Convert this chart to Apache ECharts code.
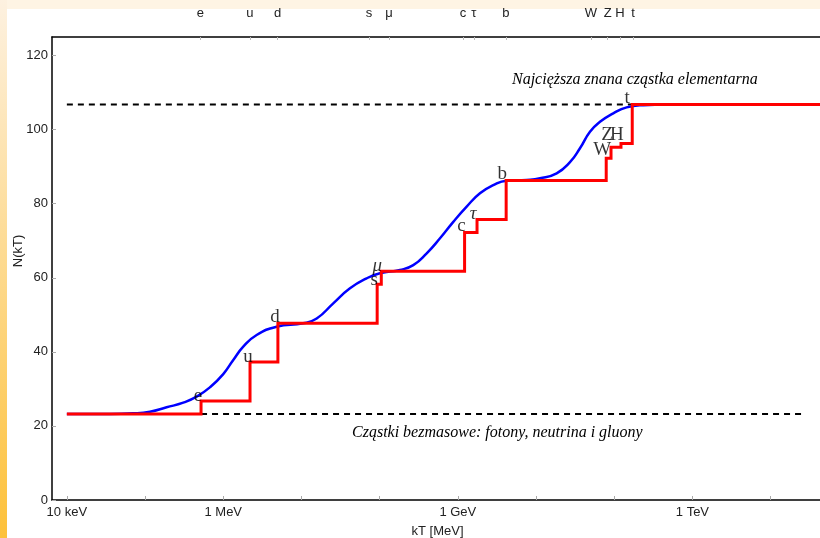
<!DOCTYPE html>
<html><head><meta charset="utf-8">
<script src="https://cdn.jsdelivr.net/npm/echarts@6/dist/echarts.min.js"></script>
<style>html,body{margin:0;padding:0;background:#fff}#c{width:820px;height:538px}</style>
</head><body><div id="c"></div>
<script>
// ---- data ----
const particles   = ['e', 'u', 'd', 's', 'μ', 'c', 'τ', 'b', 'W', 'Z', 'H', 't'];
const massesMeV   = [0.52, 2.2, 5.0, 93, 105, 1220, 1760, 4150, 79000, 91000, 122000, 170000];
const levelsAfter = [26.75, 37.25, 47.75, 58.25, 61.75, 72.25, 75.75, 86.25, 92.25, 95.25, 96.25, 106.75];
const baseLevel = 23.25;
const startMeV = 0.01;
const endLog10 = 7.67;

// blue smooth curve: log10(kT/MeV) and N(kT)
const blueLog10 = [-2.0, -1.449, -1.155, -0.937, -0.724, -0.511, -0.340, -0.170, 0.0, 0.128, 0.256, 0.427, 0.683, 1.023, 1.195, 1.407, 1.621, 1.834, 2.004, 2.260, 2.430, 2.602, 2.772, 2.942, 3.113, 3.283, 3.454, 3.625, 3.881, 4.051, 4.264, 4.434, 4.562, 4.690, 4.818, 4.988, 5.159, 5.372, 5.671, 7.67];
const blueN     = [23.25, 23.25, 23.4, 23.84, 25.03, 26.27, 27.89, 30.43, 34.0, 37.8, 41.39, 44.55, 46.79, 47.71, 49.0, 53.1, 57.15, 59.85, 61.2, 62.1, 63.4, 66.6, 70.65, 75.1, 79.2, 82.8, 85.0, 86.2, 86.4, 86.85, 88.2, 91.2, 94.95, 99.4, 102.1, 104.4, 106.0, 106.6, 106.75, 106.75];

// dashed reference lines
const dashLevels  = [23.25, 106.75];
const dashFromMeV = [0.52, 0.01];
const dashToMeV   = [2.75e7, 170000];

// tick labels
const bottomTickLog10   = [-2, 0, 3, 6];
const bottomTickLabels  = ['10 keV', '1 MeV', '1 GeV', '1 TeV'];
const topLabelLog10     = [-0.294, 0.342, 0.696, 1.864, 2.119, 3.066, 3.206, 3.613, 4.703, 4.917, 5.074, 5.240];
const yTicks = [0, 20, 40, 60, 80, 100, 120];

// ---- build ----
const L = Math.log10;
const redData = [[L(startMeV), baseLevel]];
let prev = baseLevel;
massesMeV.forEach((m, i) => { redData.push([L(m), prev]); redData.push([L(m), levelsAfter[i]]); prev = levelsAfter[i]; });
redData.push([endLog10, prev]);
const blueData = blueLog10.map((x, i) => [x, blueN[i]]);

const labelOffsets = [[-3,-5],[-2,-5],[-3,-6],[-3,-4],[-4,-5],[-3,-6],[-4,-5],[-4,-7],[-4,-8],[-4,-12],[-4,-8],[-5,-7]];
const labelData = particles.map((p, i) => ({
  value: [L(massesMeV[i]), levelsAfter[i]],
  label: { offset: labelOffsets[i], fontStyle: (p === 'μ' || p === 'τ') ? 'italic' : 'normal' }
}));

const dashSeries = dashLevels.map((lv, i) => ({
  type: 'line', data: [[L(dashFromMeV[i]), lv], [L(dashToMeV[i]), lv]],
  symbol: 'none', silent: true, z: 1,
  lineStyle: { color: '#000', width: 2, type: [6, 5] }
}));

const XMIN = -2.19, XMAX = endLog10;
const sans = 'Liberation Sans, Arial, sans-serif';
const chart = echarts.init(document.getElementById('c'), null, { renderer: 'canvas' });
chart.setOption({
  backgroundColor: '#fff',
  animation: false,
  grid: { left: 52, top: 37, width: 771, height: 463, containLabel: false, outerBoundsMode: 'none' },
  xAxis: [{
    type: 'value', min: XMIN, max: XMAX, position: 'bottom',
    name: 'kT [MeV]', nameLocation: 'middle', nameGap: 25,
    nameTextStyle: { fontFamily: sans, fontSize: 13, color: '#222' },
    axisLine: { show: true, onZero: false, lineStyle: { color: '#000', width: 1.5 } },
    axisTick: { show: true, inside: true, length: 4, lineStyle: { color: '#aaa' }, customValues: [-2,-1,0,1,2,3,4,5,6,7] },
    axisLabel: { customValues: bottomTickLog10, margin: 6, fontFamily: sans, fontSize: 13, color: '#222',
      formatter: v => { const k = bottomTickLog10.findIndex(t => Math.abs(t - v) < 1e-6); return k >= 0 ? bottomTickLabels[k] : ''; } },
    splitLine: { show: false }
  }, {
    type: 'value', min: XMIN, max: XMAX, position: 'top',
    axisLine: { show: true, onZero: false, lineStyle: { color: '#000', width: 1.5 } },
    axisTick: { show: true, inside: true, length: 3, lineStyle: { color: '#bbb' }, customValues: topLabelLog10 },
    axisLabel: { customValues: topLabelLog10, margin: 17, fontFamily: sans, fontSize: 13, color: '#222',
      formatter: v => { const k = topLabelLog10.findIndex(t => Math.abs(t - v) < 1e-6); return k >= 0 ? particles[k] : ''; } },
    splitLine: { show: false }
  }],
  yAxis: {
    type: 'value', min: 0, max: 125,
    axisLine: { show: true, onZero: false, lineStyle: { color: '#000', width: 1.5 } },
    axisTick: { show: true, inside: true, length: 4, lineStyle: { color: '#aaa' }, customValues: yTicks },
    axisLabel: { customValues: yTicks, margin: 4, fontFamily: sans, fontSize: 13, color: '#222' },
    splitLine: { show: false }
  },
  graphic: [
    { type: 'rect', shape: { x: 0, y: 0, width: 820, height: 9 }, style: { fill: '#fef4e4' }, silent: true, z: -10 },
    { type: 'rect', shape: { x: 0, y: 0, width: 7, height: 538 }, silent: true, z: -9,
      style: { fill: new echarts.graphic.LinearGradient(0, 0, 0, 1, [{ offset: 0, color: '#fdf1e0' }, { offset: 1, color: '#fdc13a' }]) } },
    { type: 'text', x: 18, y: 251, rotation: Math.PI / 2, silent: true,
      style: { text: 'N(kT)', font: '13px ' + sans, fill: '#222', textAlign: 'center', textVerticalAlign: 'middle' } },
    { type: 'text', x: 512, y: 80, silent: true,
      style: { text: 'Najcięższa znana cząstka elementarna', font: 'italic 16px "Liberation Serif", "Times New Roman", serif', fill: '#000', textAlign: 'left', textVerticalAlign: 'middle' } },
    { type: 'text', x: 352, y: 433, silent: true,
      style: { text: 'Cząstki bezmasowe: fotony, neutrina i gluony', font: 'italic 16px "Liberation Serif", "Times New Roman", serif', fill: '#000', textAlign: 'left', textVerticalAlign: 'middle' } }
  ],
  series: [
    ...dashSeries,
    { type: 'line', name: 'N smooth', data: blueData, smooth: 0.5, symbol: 'none', z: 2,
      lineStyle: { color: '#0000ff', width: 2.5 } },
    { type: 'line', name: 'N step', data: redData, symbol: 'none', z: 3,
      lineStyle: { color: '#ff0000', width: 3, join: 'miter' } },
    { type: 'scatter', data: labelData, symbolSize: 1, z: 5, itemStyle: { color: 'rgba(0,0,0,0)' },
      label: { show: true, position: 'inside', formatter: p => particles[p.dataIndex],
        fontFamily: '"Liberation Serif", "Times New Roman", serif', fontSize: 19, color: '#000' } }
  ]
});
</script></body></html>
